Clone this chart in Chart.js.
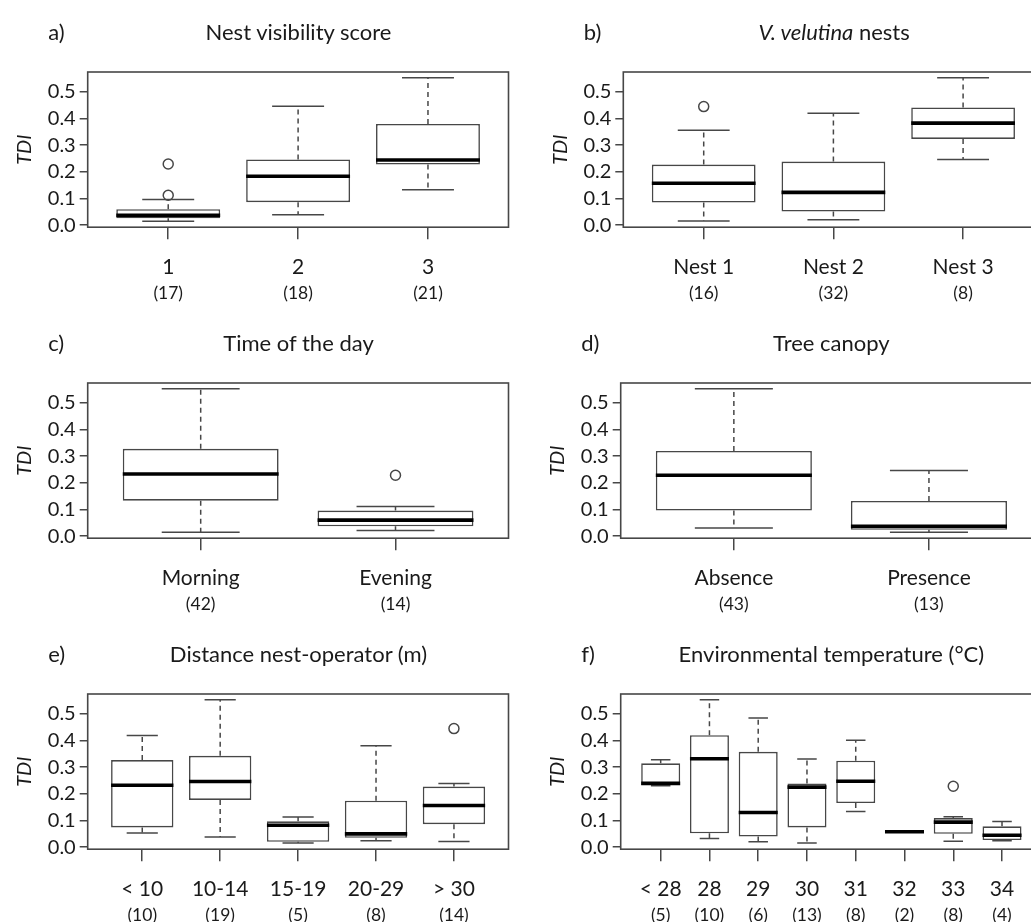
<!DOCTYPE html>
<html><head><meta charset="utf-8">
<script src="https://cdn.jsdelivr.net/npm/chart.js@4.4.0/dist/chart.umd.min.js"></script>
<style>
html,body{margin:0;padding:0;background:#fff;overflow:hidden;width:1031px;height:922px;}
#wrap{position:relative;width:1031px;height:922px;overflow:hidden;background:#fff;}
canvas{position:absolute;}
.lab{position:absolute;font-family:Lato,"Open Sans",sans-serif;font-size:22px;color:#1a1a1a;white-space:nowrap;line-height:24px;}
</style></head><body><div id="wrap"></div>
<script>
// ---------- data ----------
// a) Nest visibility score
const visCats = ['1', '2', '3'];
const visN = ['(17)', '(18)', '(21)'];
const visLo = [0.015, 0.039, 0.133];
const visQ1 = [0.026, 0.086, 0.227];
const visMed = [0.037, 0.183, 0.244];
const visQ3 = [0.060, 0.246, 0.379];
const visHi = [0.096, 0.445, 0.552];
const visOut = [[1, 0.229], [1, 0.112]];

// b) V. velutina nests
const nestCats = ['Nest 1', 'Nest 2', 'Nest 3'];
const nestN = ['(16)', '(32)', '(8)'];
const nestLo = [0.016, 0.020, 0.246];
const nestQ1 = [0.085, 0.051, 0.323];
const nestMed = [0.157, 0.123, 0.382];
const nestQ3 = [0.227, 0.238, 0.441];
const nestHi = [0.355, 0.419, 0.552];
const nestOut = [[1, 0.444]];

// c) Time of the day
const timeCats = ['Morning', 'Evening'];
const timeN = ['(42)', '(14)'];
const timeLo = [0.015, 0.021];
const timeQ1 = [0.133, 0.037];
const timeMed = [0.233, 0.060];
const timeQ3 = [0.327, 0.096];
const timeHi = [0.552, 0.111];
const timeOut = [[2, 0.228]];

// d) Tree canopy
const canCats = ['Absence', 'Presence'];
const canN = ['(43)', '(13)'];
const canLo = [0.031, 0.015];
const canQ1 = [0.096, 0.024];
const canMed = [0.228, 0.037];
const canQ3 = [0.319, 0.132];
const canHi = [0.552, 0.246];
const canOut = [];

// e) Distance nest-operator (m)
const distCats = ['< 10', '10-14', '15-19', '20-29', '> 30'];
const distN = ['(10)', '(19)', '(5)', '(8)', '(14)'];
const distLo = [0.053, 0.038, 0.016, 0.024, 0.021];
const distQ1 = [0.074, 0.177, 0.020, 0.035, 0.086];
const distMed = [0.232, 0.246, 0.082, 0.050, 0.156];
const distQ3 = [0.326, 0.342, 0.097, 0.174, 0.227];
const distHi = [0.418, 0.552, 0.113, 0.380, 0.238];
const distOut = [[5, 0.444]];

// f) Environmental temperature (°C)
const tempCats = ['< 28', '28', '29', '30', '31', '32', '33', '34'];
const tempN = ['(5)', '(10)', '(6)', '(13)', '(8)', '(2)', '(8)', '(4)'];
const tempLo = [0.230, 0.033, 0.020, 0.016, 0.134, 0.057, 0.022, 0.024];
const tempQ1 = [0.233, 0.052, 0.040, 0.074, 0.165, 0.057, 0.050, 0.027];
const tempMed = [0.239, 0.331, 0.130, 0.225, 0.247, 0.058, 0.094, 0.045];
const tempQ3 = [0.314, 0.419, 0.357, 0.238, 0.324, 0.059, 0.109, 0.078];
const tempHi = [0.327, 0.552, 0.484, 0.330, 0.400, 0.059, 0.114, 0.096];
const tempOut = [[7, 0.228]];

const yTicks = [0, 0.1, 0.2, 0.3, 0.4, 0.5];
const yLabel = 'TDI';

// ---------- layout ----------
const FONT = 'Lato';
const LINE = '#474747';
const TXT = '#1a1a1a';
const ROW_H = 311;
const AREA_TOP = 72;
const AREA_BOTTOM = 227.2;
const X_H = 52, X2_H = 30;

const panels = [
  {tag:'a)', title:'Nest visibility score', cats:visCats, n:visN, lo:visLo, q1:visQ1, med:visMed, q3:visQ3, hi:visHi, out:visOut, col:0, row:0, aL:87.7, aR:509.3},
  {tag:'b)', title:'<i>V. velutina</i> nests', cats:nestCats, n:nestN, lo:nestLo, q1:nestQ1, med:nestMed, q3:nestQ3, hi:nestHi, out:nestOut, col:1, row:0, aL:623.3, aR:1044.9},
  {tag:'c)', title:'Time of the day', cats:timeCats, n:timeN, lo:timeLo, q1:timeQ1, med:timeMed, q3:timeQ3, hi:timeHi, out:timeOut, col:0, row:1, aL:87.7, aR:509.3},
  {tag:'d)', title:'Tree canopy', cats:canCats, n:canN, lo:canLo, q1:canQ1, med:canMed, q3:canQ3, hi:canHi, out:canOut, col:1, row:1, aL:620.7, aR:1042.1},
  {tag:'e)', title:'Distance nest-operator (m)', cats:distCats, n:distN, lo:distLo, q1:distQ1, med:distMed, q3:distQ3, hi:distHi, out:distOut, col:0, row:2, aL:87.7, aR:509.3},
  {tag:'f)', title:'Environmental temperature (°C)', cats:tempCats, n:tempN, lo:tempLo, q1:tempQ1, med:tempMed, q3:tempQ3, hi:tempHi, out:tempOut, col:1, row:2, aL:620.7, aR:1042}
];

const boxExtras = {
  id: 'boxExtras',
  afterDatasetsDraw(chart, args, opts) {
    const {ctx, scales: {x, y}} = chart;
    const u = (v) => x.getPixelForValue(v);
    ctx.save();
    for (let i = 0; i < opts.med.length; i++) {
      const c = i + 1;
      const xc = u(c);
      // whiskers (dashed)
      ctx.strokeStyle = LINE;
      ctx.lineWidth = 1.5;
      ctx.setLineDash([5, 4]);
      ctx.beginPath();
      ctx.moveTo(xc, y.getPixelForValue(opts.q3[i]));
      ctx.lineTo(xc, y.getPixelForValue(opts.hi[i]));
      ctx.moveTo(xc, y.getPixelForValue(opts.q1[i]));
      ctx.lineTo(xc, y.getPixelForValue(opts.lo[i]));
      ctx.stroke();
      // staples
      ctx.setLineDash([]);
      ctx.beginPath();
      const s0 = u(c - 0.2), s1 = u(c + 0.2);
      ctx.moveTo(s0, y.getPixelForValue(opts.hi[i]));
      ctx.lineTo(s1, y.getPixelForValue(opts.hi[i]));
      ctx.moveTo(s0, y.getPixelForValue(opts.lo[i]));
      ctx.lineTo(s1, y.getPixelForValue(opts.lo[i]));
      ctx.stroke();
      // median
      ctx.strokeStyle = '#000';
      ctx.lineWidth = 3.6;
      ctx.lineCap = 'butt';
      ctx.beginPath();
      ctx.moveTo(u(c - 0.4), y.getPixelForValue(opts.med[i]));
      ctx.lineTo(u(c + 0.4), y.getPixelForValue(opts.med[i]));
      ctx.stroke();
    }
    ctx.restore();
  },
  afterDraw(chart) {
    const {ctx, chartArea: a} = chart;
    ctx.save();
    ctx.strokeStyle = LINE;
    ctx.lineWidth = 1.6;
    ctx.strokeRect(a.left, a.top, a.right - a.left, a.bottom - a.top);
    ctx.restore();
  }
};

const wrap = document.getElementById('wrap');

panels.forEach((p) => {
  const offX = p.col ? 515 : 0;
  const W = p.col ? 535 : 515;
  const top = p.row * ROW_H;
  const cv = document.createElement('canvas');
  cv.width = W; cv.height = ROW_H;
  cv.style.left = offX + 'px'; cv.style.top = top + 'px';
  cv.style.width = W + 'px'; cv.style.height = ROW_H + 'px';
  wrap.appendChild(cv);

  // titles
  const tag = document.createElement('div');
  tag.className = 'lab';
  tag.textContent = p.tag;
  tag.style.left = (p.aL - 39.5) + 'px';
  tag.style.top = (top + 31.5 - 12) + 'px';
  wrap.appendChild(tag);
  const tt = document.createElement('div');
  tt.className = 'lab';
  tt.innerHTML = p.title;
  tt.style.left = ((p.aL + p.aR) / 2) + 'px';
  tt.style.transform = 'translateX(-50%)';
  tt.style.top = (top + 31.5 - 12) + 'px';
  wrap.appendChild(tt);

  const n = p.cats.length;
  const xmin = 0.5 - 0.04 * n, xmax = n + 0.5 + 0.04 * n;
  const aLrel = p.aL - offX, aRrel = p.aR - offX;
  const yTitleSize = 20;
  const yTitlePad = (aLrel - 63) - yTitleSize * 1.2 / 2;
  const intTicks = (s) => { s.ticks = p.cats.map((_, i) => ({value: i + 1})); };

  new Chart(cv, {
    type: 'bar',
    data: {
      datasets: [
        {
          type: 'bar',
          data: p.cats.map((_, i) => ({x: i + 1, y: [p.q1[i], p.q3[i]]})),
          backgroundColor: '#fff',
          borderColor: LINE,
          borderWidth: 1.6,
          borderSkipped: false,
          categoryPercentage: 1,
          barPercentage: 0.8,
          order: 2
        },
        {
          type: 'scatter',
          data: p.out.map(o => ({x: o[0], y: o[1]})),
          pointStyle: 'circle',
          pointRadius: 5,
          backgroundColor: 'rgba(255,255,255,0)',
          borderColor: LINE,
          borderWidth: 1.5,
          order: 1
        }
      ]
    },
    options: {
      responsive: false,
      animation: false,
      events: [],
      layout: {padding: {left: 0, top: AREA_TOP, right: W - aRrel, bottom: ROW_H - AREA_BOTTOM - X_H - X2_H}},
      plugins: {
        legend: {display: false},
        tooltip: {enabled: false},
        title: {display: false},
        boxExtras: {lo: p.lo, q1: p.q1, med: p.med, q3: p.q3, hi: p.hi}
      },
      scales: {
        x: {
          type: 'linear', position: 'bottom', min: xmin, max: xmax, offset: false,
          afterBuildTicks: intTicks,
          afterFit: (s) => { s.height = X_H; },
          grid: {offset: false, drawOnChartArea: false, drawTicks: true, tickLength: 12, color: LINE, lineWidth: 1.5},
          border: {display: false},
          ticks: {
            callback: (v) => p.cats[Math.round(v) - 1],
            font: {family: FONT, size: 21}, color: TXT, padding: 15,
            maxRotation: 0, autoSkip: false
          }
        },
        x2: {
          type: 'linear', position: 'bottom', min: xmin, max: xmax, offset: false,
          afterBuildTicks: intTicks,
          afterFit: (s) => { s.height = X2_H; },
          grid: {offset: false, display: false, drawTicks: false},
          border: {display: false},
          ticks: {
            callback: (v) => p.n[Math.round(v) - 1],
            font: {family: FONT, size: 17.5}, color: TXT, padding: 4,
            maxRotation: 0, autoSkip: false
          }
        },
        y: {
          type: 'linear', position: 'left', min: -0.0075, max: 0.5735,
          afterBuildTicks: (s) => { s.ticks = yTicks.map(v => ({value: v})); },
          afterFit: (s) => { s.width = aLrel; },
          grid: {drawOnChartArea: false, drawTicks: true, tickLength: 8, color: LINE, lineWidth: 1.5},
          border: {display: false},
          ticks: {
            callback: (v) => v.toFixed(1),
            font: {family: FONT, size: 20}, color: TXT, padding: 4
          },
          title: {
            display: true, text: yLabel,
            font: {family: FONT, size: yTitleSize, style: 'italic'}, color: TXT,
            padding: {top: yTitlePad, bottom: 0}
          }
        }
      }
    },
    plugins: [boxExtras]
  });
});
</script>
</body></html>
